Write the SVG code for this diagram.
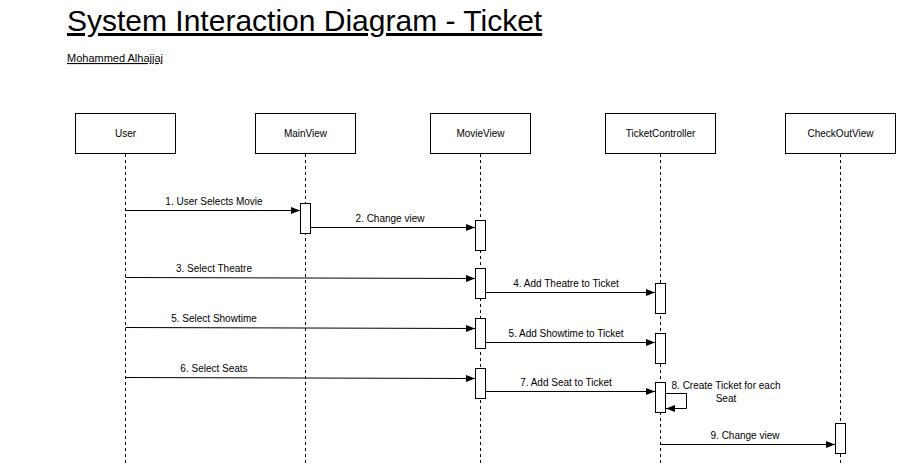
<svg xmlns="http://www.w3.org/2000/svg" width="897" height="464" viewBox="0 0 897 464">
<style>
text{font-family:"Liberation Sans",Arial,sans-serif;fill:#000}
.title{font-size:30px;text-decoration:underline}
.sub{font-size:11px;text-decoration:underline}
.lbl{font-size:10px;text-anchor:middle}
.box{fill:#fff;stroke:#000;stroke-width:1}
.life{stroke:#000;stroke-width:1;stroke-dasharray:3 3;fill:none}
.act{fill:#fff;stroke:#000;stroke-width:1}
.msg{stroke:#000;stroke-width:1;fill:none;marker-end:url(#arr)}
</style>
<defs>
<marker id="arr" markerUnits="userSpaceOnUse" markerWidth="10" markerHeight="8" refX="9" refY="4" orient="auto">
<path d="M0,0.5 L9,4 L0,7.5 z" fill="#000"/>
</marker>
</defs>
<text class="title" x="67" y="31">System Interaction Diagram - Ticket</text>
<text class="sub" x="67" y="62">Mohammed Alhajjaj</text>

<g id="lifelines">
<line class="life" x1="125.5" y1="154" x2="125.5" y2="464"/>
<line class="life" x1="305.5" y1="154" x2="305.5" y2="464"/>
<line class="life" x1="480.5" y1="154" x2="480.5" y2="464"/>
<line class="life" x1="660.5" y1="154" x2="660.5" y2="464"/>
<line class="life" x1="840.5" y1="154" x2="840.5" y2="464"/>
</g>

<g id="user"><rect class="box" x="75.5" y="113.5" width="100" height="40"/><text class="lbl" x="125.5" y="137">User</text></g>
<g id="mainview"><rect class="box" x="255.5" y="113.5" width="100" height="40"/><text class="lbl" x="305.5" y="137">MainView</text></g>
<g id="movieview"><rect class="box" x="430.5" y="113.5" width="100" height="40"/><text class="lbl" x="480.5" y="137">MovieView</text></g>
<g id="ticketcontroller"><rect class="box" x="605.5" y="113.5" width="110" height="40"/><text class="lbl" x="660.5" y="137">TicketController</text></g>
<g id="checkoutview"><rect class="box" x="785.5" y="113.5" width="110" height="40"/><text class="lbl" x="840.5" y="137">CheckOutView</text></g>

<g id="activations">
<rect class="act" x="300.5" y="203.5" width="10" height="30"/>
<rect class="act" x="475.5" y="220.5" width="10" height="30"/>
<rect class="act" x="475.5" y="268.5" width="10" height="30"/>
<rect class="act" x="475.5" y="318.5" width="10" height="30"/>
<rect class="act" x="475.5" y="368.5" width="10" height="30"/>
<rect class="act" x="655.5" y="283.5" width="10" height="30"/>
<rect class="act" x="655.5" y="333.5" width="10" height="30"/>
<rect class="act" x="655.5" y="382.5" width="10" height="30"/>
<rect class="act" x="835.5" y="423.5" width="10" height="30"/>
</g>

<g id="connectors">
<path class="msg" d="M125.5,210.5 L300,210.5"/>
<path class="msg" d="M310.5,227.5 L475,227.5"/>
<path class="msg" d="M125.5,277.5 L475,278.5"/>
<path class="msg" d="M485.5,292.5 L655,292.5"/>
<path class="msg" d="M125.5,327.5 L475,328.5"/>
<path class="msg" d="M485.5,342.5 L655,342.5"/>
<path class="msg" d="M125.5,377.5 L475,378.5"/>
<path class="msg" d="M485.5,391.5 L655,391.5"/>
<path class="msg" d="M665.5,393.5 L686.5,393.5 L686.5,408.5 L666,408.5"/>
<path class="msg" d="M660.5,444.5 L835,444.5"/>
</g>

<g id="labels">
<text class="lbl" x="214" y="205">1. User Selects Movie</text>
<text class="lbl" x="390" y="222">2. Change view</text>
<text class="lbl" x="214" y="272">3. Select Theatre</text>
<text class="lbl" x="566" y="287">4. Add Theatre to Ticket</text>
<text class="lbl" x="214" y="322">5. Select Showtime</text>
<text class="lbl" x="566" y="337">5. Add Showtime to Ticket</text>
<text class="lbl" x="214" y="372">6. Select Seats</text>
<text class="lbl" x="566" y="386">7. Add Seat to Ticket</text>
<text class="lbl" x="726" y="389">8. Create Ticket for each</text>
<text class="lbl" x="726" y="402">Seat</text>
<text class="lbl" x="745" y="439">9. Change view</text>
</g>
</svg>
